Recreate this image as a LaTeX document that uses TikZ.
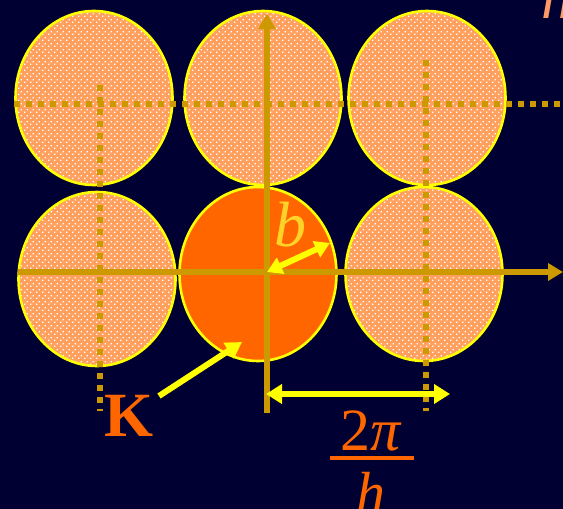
\documentclass[tikz,border=0pt]{standalone}
\usepackage{fontspec}
\setmainfont{Liberation Serif}
\usetikzlibrary{shapes.geometric,arrows.meta,patterns.meta}
\definecolor{bg}{RGB}{0,0,51}
\definecolor{ora}{RGB}{255,102,0}
\definecolor{gold}{RGB}{204,153,0}
\definecolor{yel}{RGB}{255,255,0}
\definecolor{bcol}{RGB}{255,210,40}
\definecolor{peach}{RGB}{255,153,102}
\definecolor{mix}{RGB}{255,160,95}
\tikzdeclarepattern{
  name=checker, type=colored,
  bottom left={(0pt,0pt)}, top right={(6pt,6pt)},
  tile size={(6pt,6pt)},
  code={\fill[white] (0pt,0pt) rectangle (1.5pt,1.5pt);
        \fill[white] (3pt,3pt) rectangle (4.5pt,4.5pt);}
}
\tikzset{
  atom/.style={ellipse, inner sep=0pt, minimum width=157pt, minimum height=174pt,
    draw=yel, line width=2.6pt},
  hatched/.style={atom, preaction={fill=mix}, pattern=checker},
  solidatom/.style={atom, fill=ora},
  axis/.style={draw=gold, line width=6pt, -{Triangle[length=15pt,width=17pt]}},
  dotline/.style={draw=gold, line width=6pt, dash pattern=on 6pt off 6pt},
  yarrow/.style={draw=yel, line width=6pt},
}
\begin{document}
\begin{tikzpicture}[x=1pt,y=-1pt]
\fill[bg] (0,0) rectangle (563,509);
\useasboundingbox (0,0) rectangle (563,509);
% atoms
\node[hatched] (tl) at (94,98) {};
\node[hatched] (tm) at (263,98) {};
\node[hatched] (tr) at (427,98) {};
\node[hatched] (bl) at (97,279) {};
\node[solidatom] (bc) at (258,274) {};
\node[hatched] (br) at (424,274) {};
% coordinates
\coordinate (O) at (267,272);
\coordinate (hl) at (14,104);
\coordinate (hr) at (563,104);
\coordinate (lvt) at (100,85);
\coordinate (lvb) at (100,411);
\coordinate (rvt) at (426,60);
\coordinate (rvb) at (426,411);
\coordinate (vtop) at (267,14);
\coordinate (vbot) at (267,413);
\coordinate (xl) at (18,272);
\coordinate (xr) at (563,272);
% dotted lattice lines
\draw[dotline] (hl) -- (hr);
\draw[dotline] (lvt) -- (lvb);
\draw[dotline] (rvt) -- (rvb);
% axes
\draw[axis] (vbot) -- (vtop);
\draw[axis] (xl) -- (xr);
% b arrow
\coordinate (bend) at (330,243);
\draw[yarrow, {Triangle[length=15pt,width=17pt]}-{Triangle[length=15pt,width=17pt]}] (O) -- (bend);
\node[text=bcol, font=\fontsize{64}{64}\selectfont\itshape, anchor=base] (blab) at (290,246) {b};
% K arrow
\node[text=ora, font=\fontsize{63}{63}\selectfont\bfseries, anchor=base] (K) at (129,436) {K};
\coordinate (kstart) at (159,396);
\coordinate (kend) at (242,342);
\draw[yarrow, -{Triangle[length=16pt,width=18pt]}] (kstart) -- (kend);
% 2pi/h arrow
\coordinate (pl) at (266,394);
\coordinate (pr) at (450,394);
\draw[yarrow, {Triangle[length=16pt,width=19pt]}-{Triangle[length=16pt,width=19pt]}] (pl) -- (pr);
\node[text=ora, font=\fontsize{60}{60}\selectfont, anchor=base] (num) at (371,450) {2\textit{π}};
\coordinate (fbl) at (330,458);
\coordinate (fbr) at (414,458);
\draw[ora, line width=3.5pt] (fbl) -- (fbr);
\node[text=ora, font=\fontsize{58}{58}\selectfont\itshape, anchor=base] (den) at (371,512) {h};
% partial label top right
\node[text=peach, font=\fontsize{62}{62}\selectfont\itshape, anchor=base west, inner sep=0pt] (hcut) at (541,18) {h};
\end{tikzpicture}
\end{document}
